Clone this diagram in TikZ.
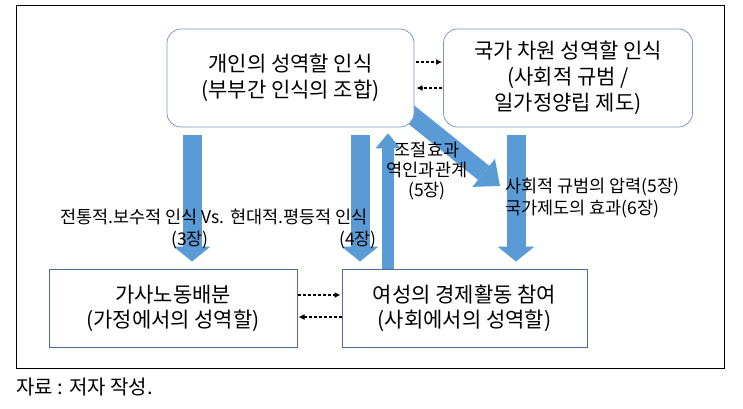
\documentclass[tikz,border=0pt]{standalone}
\usepackage{fontspec}
\setmainfont{Noto Sans CJK KR}
\usetikzlibrary{arrows.meta}
\definecolor{barblue}{RGB}{91,155,213}
\definecolor{softedge}{RGB}{125,155,192}
\definecolor{hardedge}{RGB}{78,108,158}
\pgfdeclarelayer{bg}
\pgfsetlayers{bg,main}

\begin{document}
\begin{tikzpicture}[x=1pt,y=-1pt,
  roundbox/.style={draw=softedge, fill=white, rounded corners=14pt, line width=0.8pt,
    align=center, inner sep=0pt, font=\fontsize{21}{26}\selectfont},
  squarebox/.style={draw=hardedge, fill=white, line width=1pt,
    align=center, inner sep=0pt, font=\fontsize{21}{25}\selectfont},
  dasharrow/.style={dash pattern=on 3pt off 2pt, line width=1.1pt, -{Latex[length=6pt,width=6pt]}},
  fatarrow/.style={barblue, line width=19pt, -{Triangle[width=37pt,length=15pt,line width=0pt]}},
  thinarrow/.style={barblue, line width=12pt, -{Triangle[width=25pt,length=15pt,line width=0pt]}},
  note/.style={font=\fontsize{17.5}{20}\selectfont, inner sep=0pt}
]
\useasboundingbox (0,0) rectangle (743,408);
\draw[line width=1pt] (16,5) rectangle (724,368);

% boxes
\node[roundbox, minimum width=247pt, minimum height=98pt] (indiv) at (290.5,78) {개인의 성역할 인식\\(부부간 인식의 조합)};
\node[roundbox, minimum width=249pt, minimum height=98pt] (nation) at (568,78) {국가 차원 성역할 인식\\(사회적 규범 /\\일가정양립 제도)};
\node[squarebox, minimum width=248pt, minimum height=78pt] (house) at (173,308) {가사노동배분\\(가정에서의 성역할)};
\node[squarebox, minimum width=245pt, minimum height=78pt] (work) at (464.5,308) {여성의 경제활동 참여\\(사회에서의 성역할)};

\coordinate (leftbar) at (192,0);
\coordinate (midbar) at (360,0);
\coordinate (backbar) at (388,0);
\coordinate (rightbar) at (516,0);
\coordinate (diagstart) at (408,112);
\coordinate (diagtip) at (500,186);

\begin{pgfonlayer}{bg}
\draw[fatarrow, shorten <=8pt, shorten >=7pt] (leftbar |- indiv.south) -- (leftbar |- house.north);
\draw[fatarrow, shorten <=8pt, shorten >=7pt] (midbar |- indiv.south) -- (midbar |- work.north);
\draw[fatarrow, shorten <=8pt, shorten >=7pt] (rightbar |- nation.south) -- (rightbar |- work.north);
\draw[thinarrow, shorten >=6pt] (backbar |- work.north) -- (backbar |- indiv.south);
\draw[barblue, line width=18pt, -{Triangle[width=36pt,length=21pt,line width=0pt]}] (diagstart) -- (diagtip);
\end{pgfonlayer}

\draw[dasharrow, shorten <=2pt, shorten >=1pt] ([yshift=16pt]indiv.east) -- ([yshift=16pt]nation.west);
\draw[dasharrow, shorten <=1pt, shorten >=2pt] ([yshift=-10pt]nation.west) -- ([yshift=-10pt]indiv.east);
\draw[dasharrow, shorten >=1pt] ([yshift=13pt]house.east) -- ([yshift=13pt]work.west);
\draw[dasharrow, shorten >=1pt] ([yshift=-9pt]work.west) -- ([yshift=-9pt]house.east);

% labels
\node[note] (views) at (214,217) {전통적.보수적 인식 Vs. 현대적.평등적 인식};
\node[note] (ch3) at (190,240) {(3장)};
\node[note] (ch4) at (358,240) {(4장)};
\node[note, align=center] (causal) at (427,171) {조절효과\\역인과관계\\(5장)};
\node[note, align=left, anchor=west, font=\fontsize{17.5}{22}\selectfont] (press) at (505,198) {사회적 규범의 압력(5장)\\국가제도의 효과(6장)};
\node[anchor=west, inner sep=0pt, font=\fontsize{20}{22}\selectfont] (source) at (16,387) {자료 : 저자 작성.};
\end{tikzpicture}
\end{document}
